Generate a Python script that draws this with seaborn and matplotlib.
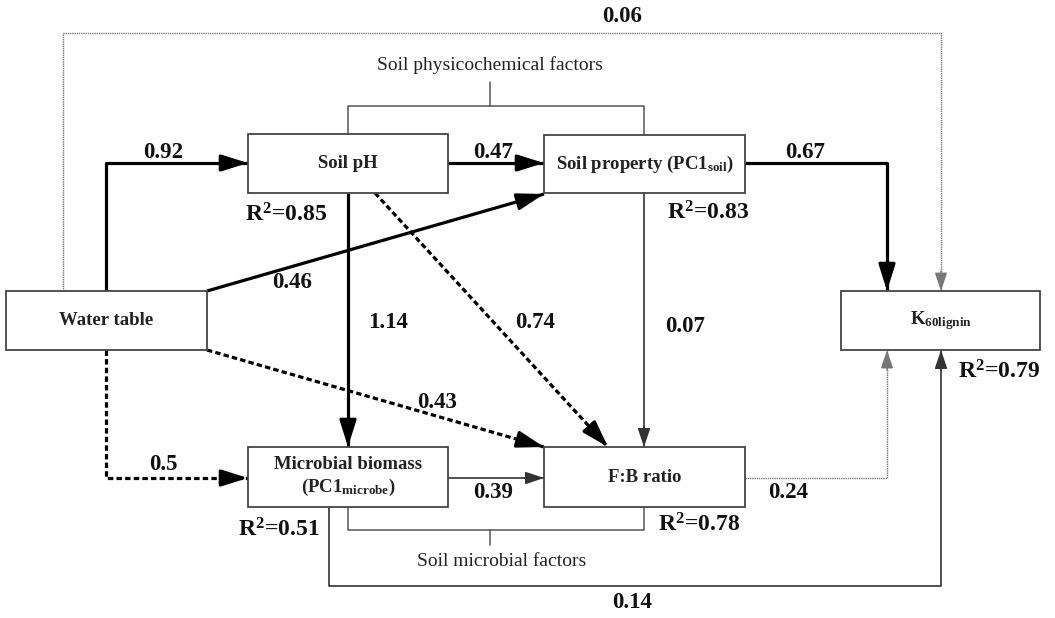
import matplotlib
matplotlib.use("Agg")
import matplotlib.pyplot as plt
import matplotlib.patches as mpatches
import seaborn as sns

# Structural equation model: path coefficients and explained variance
boxes = ["Water table", "Soil pH", "Soil property (PC1$_{\\mathbf{soil}}$)",
         "Microbial biomass\n(PC1$_{\\mathbf{microbe}}$)", "F:B ratio", "K$_{\\mathbf{60lignin}}$"]
r2_boxes = [1, 2, 3, 4, 5]
r2_values = [0.85, 0.83, 0.51, 0.78, 0.79]

path_from = [0, 1, 2, 0, 1, 1, 2, 0, 0, 3, 4, 3, 0]
path_to = [1, 2, 5, 2, 3, 4, 4, 4, 3, 4, 5, 5, 5]
path_coef = [0.92, 0.47, 0.67, 0.46, 1.14, 0.74, 0.07, 0.43, 0.5, 0.39, 0.24, 0.14, 0.06]
path_kind = ["thick", "thick", "thick", "thick", "thick", "dashed", "thin",
             "dashed", "dashed", "thin", "dotted", "thin", "dotted"]

group_names = ["Soil physicochemical factors", "Soil microbial factors"]

# ---- layout (pixel space, y down) ----
box_xy = [(6, 291, 207, 350), (248, 134, 448, 193), (544, 135, 745, 193),
          (248, 447, 448, 507), (544, 447, 745, 507), (841, 291, 1040, 350)]
r2_pos = [(245, 215), (667, 213), (238, 530), (658, 525), (958, 372)]
route = [
    [(106, 291), (106, 163), (248, 163)],
    [(448, 163), (544, 163)],
    [(745, 163), (887, 163), (887, 291)],
    [(207, 291), (544, 194)],
    [(348, 193), (348, 447)],
    [(375, 193), (608, 447)],
    [(644, 193), (644, 447)],
    [(207, 350), (544, 447)],
    [(106, 350), (106, 478), (248, 478)],
    [(448, 478), (544, 478)],
    [(745, 478), (887, 478), (887, 350)],
    [(329, 507), (329, 586), (941, 586), (941, 350)],
    [(63, 291), (63, 33), (941, 33), (941, 291)],
]
label_pos = [(163, 152), (493, 152), (805, 152), (292, 283), (388, 322), (535, 323),
             (685, 327), (437, 402), (163, 465), (493, 492), (788, 492), (632, 603), (622, 17)]

styles = {
    "thick": dict(lw=2.3, color="black", ls="-", head=(1.15, 0.36)),
    "dashed": dict(lw=2.3, color="black", ls=(0, (1.7, 1.0)), head=(1.15, 0.36)),
    "thin": dict(lw=1.2, color="#333333", ls="-", head=(0.8, 0.27)),
    "dotted": dict(lw=1.0, color="#777777", ls=(0, (1, 0.6)), head=(0.8, 0.27)),
}

sns.set_theme(style="white")
plt.rcParams["font.family"] = ["Liberation Serif", "DejaVu Serif"]
plt.rcParams["mathtext.fontset"] = "custom"
plt.rcParams["mathtext.rm"] = "Liberation Serif"
plt.rcParams["mathtext.bf"] = "Liberation Serif:bold"
plt.rcParams["mathtext.it"] = "Liberation Serif:italic"

fig = plt.figure(figsize=(10.55, 6.18), dpi=100)
ax = fig.add_axes([0, 0, 1, 1])
ax.set_xlim(0, 1055)
ax.set_ylim(618, 0)
ax.axis("off")

# group brackets
bracket_col = "#555555"
ax.plot([348, 348, 644, 644], [134, 106, 106, 135], color=bracket_col, lw=1.1)
ax.plot([490, 490], [106, 82], color=bracket_col, lw=1.1)
ax.text(490, 65, group_names[0], ha="center", va="center", fontsize=14, color="#222222")
ax.plot([348, 348, 644, 644], [507, 530, 530, 507], color=bracket_col, lw=1.1)
ax.plot([490, 490], [530, 545], color=bracket_col, lw=1.1)
ax.text(502, 562, group_names[1], ha="center", va="center", fontsize=14, color="#222222")

# paths
for i, coef in enumerate(path_coef):
    st = styles[path_kind[i]]
    pts = route[i]
    xs = [p[0] for p in pts]
    ys = [p[1] for p in pts]
    ax.plot(xs, ys, color=st["color"], lw=st["lw"], linestyle=st["ls"],
            solid_capstyle="butt", zorder=2)
    (x0, y0), (x1, y1) = pts[-2], pts[-1]
    d = ((x1 - x0) ** 2 + (y1 - y0) ** 2) ** 0.5
    back = 20
    sx, sy = x1 - (x1 - x0) / d * back, y1 - (y1 - y0) / d * back
    hl, hw = st["head"]
    ax.annotate("", xy=(x1, y1), xytext=(sx, sy),
                arrowprops=dict(arrowstyle=f"-|>,head_length={hl},head_width={hw}",
                                color=st["color"], lw=st["lw"], shrinkA=0, shrinkB=0,
                                mutation_scale=14), zorder=3)
    lx, ly = label_pos[i]
    ax.text(lx, ly, f"{coef:g}", ha="center", va="center", fontsize=16.5,
            fontweight="bold", color="#111111", zorder=4)

# boxes
for name, (x0, y0, x1, y1) in zip(boxes, box_xy):
    ax.add_patch(mpatches.Rectangle((x0, y0), x1 - x0, y1 - y0, facecolor="white",
                                    edgecolor="#444444", lw=1.3, zorder=5))
    ax.text((x0 + x1) / 2, (y0 + y1) / 2, name, ha="center", va="center",
            fontsize=13.5, fontweight="bold", color="#222222", zorder=6, linespacing=1.3)

# R2 labels
for b, v, (x, y) in zip(r2_boxes, r2_values, r2_pos):
    ax.text(x, y, f"R$^{{\\mathbf{{2}}}}$={v:.2f}", ha="left", va="center", fontsize=17,
            fontweight="bold", color="#111111", zorder=6)

fig.savefig("out.png", dpi=100)
